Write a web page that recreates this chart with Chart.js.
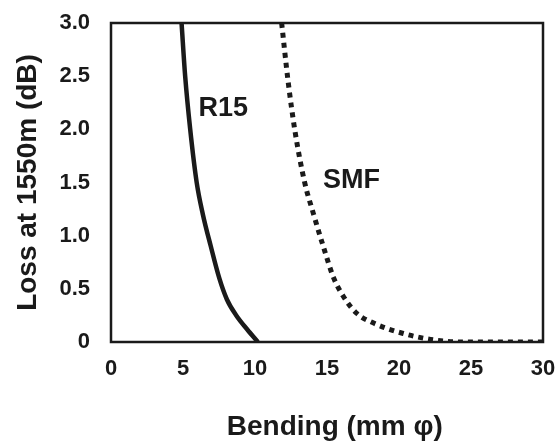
<!DOCTYPE html>
<html lang="en">
<head>
    <meta charset="UTF-8">
    <title>Bending loss</title>
    <script src="https://cdn.jsdelivr.net/npm/chart.js"></script>
    <style>
        html, body { margin: 0; padding: 0; background: #fff; }
        .chart-container { width: 557px; height: 448px; }
    </style>
</head>
<body>
    <div class="chart-container">
        <canvas id="lossChart"></canvas>
    </div>
    <script>
        // R15 fibre: bending diameter (mm) vs loss (dB)
        const r15X = [4.9, 5.15, 5.5, 5.95, 6.38, 6.93, 7.52, 8.05, 8.7, 9.45, 10.2];
        const r15Y = [3.0, 2.5, 2.0, 1.5, 1.2, 0.9, 0.6, 0.4, 0.25, 0.12, 0.0];

        // standard single-mode fibre
        const smfX = [11.85, 12.3, 12.78, 13.45, 14.05, 14.74, 15.44, 16.13, 17.06, 18.2, 20.3, 22.4, 24.4, 27, 30];
        const smfY = [3.0, 2.45, 1.98, 1.5, 1.21, 0.90, 0.61, 0.43, 0.27, 0.18, 0.08, 0.02, 0.0, 0.0, 0.0];

        // text labels inside the plot (data coordinates)
        const labelText = ['R15', 'SMF'];
        const labelX = [7.8, 16.7];
        const labelY = [2.2, 1.52];

        const toPoints = (xs, ys) => xs.map((x, i) => ({ x: x, y: ys[i] }));

        // black frame around the plot area
        const framePlugin = {
            id: 'frame',
            beforeDatasetsDraw(chart) {
                const { ctx, chartArea: a } = chart;
                ctx.save();
                ctx.strokeStyle = '#1a1a1a';
                ctx.lineWidth = 2.5;
                ctx.strokeRect(a.left, a.top, a.right - a.left, a.bottom - a.top);
                ctx.restore();
            }
        };

        // curve names
        const labelPlugin = {
            id: 'curveLabels',
            afterDatasetsDraw(chart) {
                const { ctx, scales } = chart;
                ctx.save();
                ctx.fillStyle = '#1a1a1a';
                ctx.font = 'bold 27px "Liberation Sans", Arial, sans-serif';
                ctx.textAlign = 'center';
                ctx.textBaseline = 'middle';
                labelText.forEach((t, i) => {
                    ctx.fillText(t, scales.x.getPixelForValue(labelX[i]), scales.y.getPixelForValue(labelY[i]));
                });
                ctx.restore();
            }
        };

        const tickFont = { family: '"Liberation Sans", Arial, sans-serif', size: 22, weight: 'bold' };
        const titleFont = { family: '"Liberation Sans", Arial, sans-serif', size: 28, weight: 'bold' };

        new Chart(document.getElementById('lossChart').getContext('2d'), {
            type: 'scatter',
            data: {
                datasets: [
                    {
                        label: 'R15',
                        data: toPoints(r15X, r15Y),
                        showLine: true,
                        borderColor: '#1a1a1a',
                        borderWidth: 4.5,
                        pointRadius: 0,
                        cubicInterpolationMode: 'monotone'
                    },
                    {
                        label: 'SMF',
                        data: toPoints(smfX, smfY),
                        showLine: true,
                        borderColor: '#1a1a1a',
                        borderWidth: 5,
                        borderDash: [5, 5],
                        borderCapStyle: 'butt',
                        pointRadius: 0,
                        cubicInterpolationMode: 'monotone'
                    }
                ]
            },
            options: {
                responsive: true,
                maintainAspectRatio: false,
                animation: false,
                layout: { padding: { left: 0, right: 14, top: 23, bottom: 0 } },
                plugins: {
                    legend: { display: false },
                    tooltip: { enabled: false }
                },
                scales: {
                    x: {
                        type: 'linear',
                        min: 0,
                        max: 30,
                        grid: { display: false, drawTicks: false },
                        border: { display: false },
                        ticks: { stepSize: 5, color: '#1a1a1a', font: tickFont, padding: 14, maxRotation: 0 },
                        title: { display: true, text: '  Bending (mm φ)', color: '#1a1a1a', font: titleFont, padding: { top: 0, bottom: 4 } },
                        afterFit(scale) {
                            scale.height = 106;
                            scale.paddingLeft = 0;
                            scale.paddingRight = 0;
                        }
                    },
                    y: {
                        min: 0,
                        max: 3,
                        grid: { display: false, drawTicks: false },
                        border: { display: false },
                        ticks: {
                            stepSize: 0.5,
                            color: '#1a1a1a',
                            font: tickFont,
                            padding: 21,
                            callback: v => v === 0 ? '0' : v.toFixed(1)
                        },
                        title: { display: true, text: 'Loss at 1550m (dB)', color: '#1a1a1a', font: titleFont, padding: { top: 11, bottom: 0 } },
                        afterFit(scale) {
                            scale.width = 111;
                            scale.paddingTop = 0;
                            scale.paddingBottom = 0;
                        }
                    }
                }
            },
            plugins: [framePlugin, labelPlugin]
        });
    </script>
</body>
</html>
